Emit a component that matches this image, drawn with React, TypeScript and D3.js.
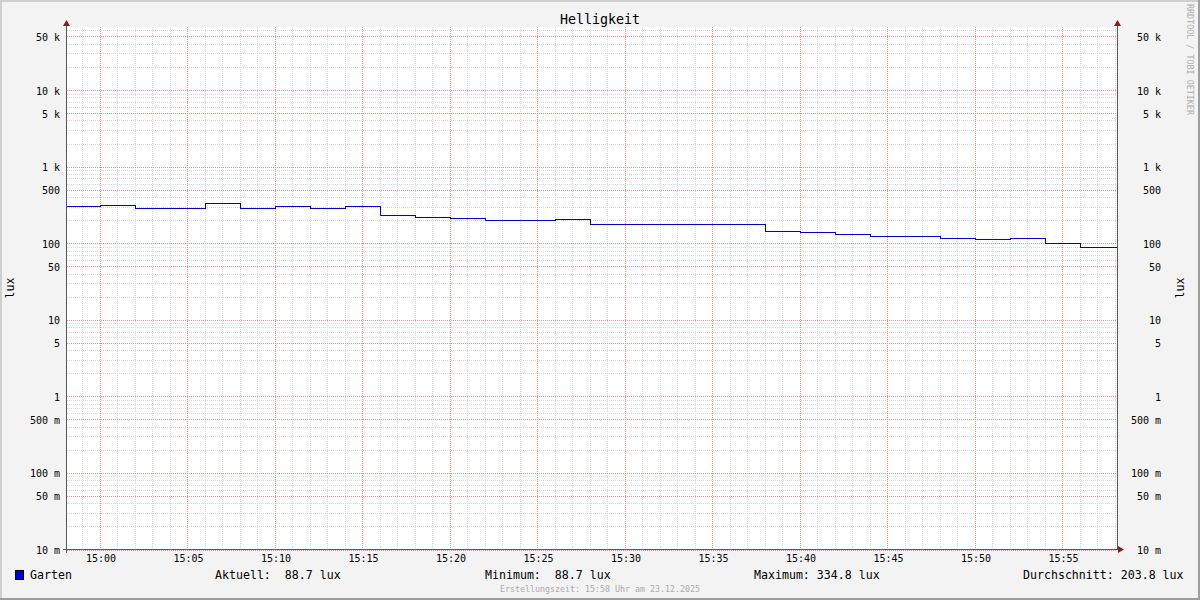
import React from "react";
import * as d3 from "d3";

// ---- data ----
const startTimes = [
  "14:58", "15:00", "15:02", "15:04", "15:06", "15:08", "15:10", "15:12", "15:14", "15:16",
  "15:18", "15:20", "15:22", "15:24", "15:26", "15:28", "15:30", "15:32", "15:34", "15:36",
  "15:38", "15:40", "15:42", "15:44", "15:46", "15:48", "15:50", "15:52", "15:54", "15:56",
];
const luxValues = [
  306, 315, 288, 288, 334.8, 288, 306, 288, 306, 233,
  220, 213, 203, 199, 207, 176, 176, 176, 176, 176,
  144, 140, 132, 124, 124, 117, 112, 116, 99.6, 88.7,
];
const yTickValues = [0.01, 0.05, 0.1, 0.5, 1, 5, 10, 50, 100, 500, 1000, 5000, 10000, 50000];
const seriesName = "Garten";
const legendStats = [
  { label: "Aktuell:", value: " 88.7 lux" },
  { label: "Minimum:", value: " 88.7 lux" },
  { label: "Maximum:", value: "334.8 lux" },
  { label: "Durchschnitt:", value: "203.8 lux" },
];
const title = "Helligkeit";
const unitLabel = "lux";
const footer = "Erstellungszeit: 15:58 Uhr am 23.12.2025";
const watermark = "RRDTOOL / TOBI OETIKER";

const W = 1200, H = 600;
const L = 67, R = 1117, T = 27, B = 549;
const MONO = "'DejaVu Sans Mono', monospace";

const parse = (s: string) => {
  const [h, m] = s.split(":").map(Number);
  return new Date(2025, 11, 23, h, m, 0);
};
const tStart = new Date(2025, 11, 23, 14, 58, 7);
const tEnd = new Date(2025, 11, 23, 15, 58, 7);

function fmtY(v: number): string {
  if (v < 1) return `${Math.round(v * 1000)} m`;
  if (v >= 1000) return `${Math.round(v / 1000)} k`;
  return `${v}  `;
}

export default function App() {
  const x = d3.scaleTime().domain([tStart, tEnd]).range([L, R]);
  const y = d3.scaleLog().domain([0.01, 65500]).range([B + 0.5, T + 0.5]);
  const px = (v: number) => Math.round(v) + 0.5;

  const data = startTimes.map((s, i) => ({ t: parse(s), v: luxValues[i] }));
  const pts = [...data, { t: tEnd, v: luxValues[luxValues.length - 1] }];
  const line = d3
    .line<{ t: Date; v: number }>()
    .x((d) => px(x(d.t)))
    .y((d) => px(y(d.v)))
    .curve(d3.curveStepAfter);

  const minorY: number[] = [];
  for (let e = -2; e <= 4; e++) {
    for (let k = 1; k <= 9; k++) {
      const v = k * Math.pow(10, e);
      if (v <= 65500 && k !== 1 && k !== 5) minorY.push(v);
    }
  }
  const minuteTicks = d3.timeMinute.every(1)!.range(tStart, tEnd).filter((d) => d.getMinutes() % 5 !== 0);
  const fiveTicks = d3.timeMinute.every(5)!.range(tStart, tEnd);
  const fmtX = d3.timeFormat("%H:%M");

  const minorC = "#d9d9d9";
  const majorC = "#f09090";
  const arrowC = "#8b1a1a";
  const axisC = "#5a5a5a";

  const legendX = [15, 215, 485, 754, 1023];

  return (
    <svg width={W} height={H} style={{ position: "fixed", left: 0, top: 0 }} fontFamily={MONO}>
      <rect x={0} y={0} width={W} height={H} fill="#f3f3f3" />
      <path d={`M0,${H}V0H${W}`} stroke="#cfcfcf" strokeWidth={4} fill="none" />
      <path d={`M0,${H}H${W}V0`} stroke="#9e9e9e" strokeWidth={4} fill="none" />
      <rect x={L} y={T} width={R - L} height={B - T} fill="#ffffff" />

      <g shapeRendering="crispEdges" strokeDasharray="1,1" strokeWidth={1}>
        {minorY.map((v) => (
          <line key={"my" + v} x1={L} x2={R} y1={px(y(v))} y2={px(y(v))} stroke={minorC} />
        ))}
        {minuteTicks.map((d) => (
          <line key={"mx" + +d} x1={px(x(d))} x2={px(x(d))} y1={T} y2={B} stroke={minorC} />
        ))}
        {yTickValues.map((v) => (
          <line key={"My" + v} x1={L} x2={R} y1={px(y(v))} y2={px(y(v))} stroke={majorC} />
        ))}
        {fiveTicks.map((d) => (
          <line key={"Mx" + +d} x1={px(x(d))} x2={px(x(d))} y1={T} y2={B} stroke={majorC} />
        ))}
      </g>

      <path d={line(pts) || ""} fill="none" stroke="#0000cc" strokeWidth={1} shapeRendering="crispEdges" />

      <g shapeRendering="crispEdges" stroke={axisC} strokeWidth={1}>
        <line x1={L - 0.5} x2={L - 0.5} y1={B + 4} y2={T - 4} />
        <line x1={R + 0.5} x2={R + 0.5} y1={B + 1} y2={T - 4} />
        <line x1={L - 4} x2={R + 4} y1={B + 0.5} y2={B + 0.5} />
      </g>
      <path d={`M${L - 4},${T - 1}L${L - 0.5},${T - 7}L${L + 3},${T - 1}Z`} fill={arrowC} />
      <path d={`M${R - 3},${T - 1}L${R + 0.5},${T - 7}L${R + 4},${T - 1}Z`} fill={arrowC} />
      <path d={`M${R + 1},${B - 3}L${R + 7},${B + 0.5}L${R + 1},${B + 4}Z`} fill={arrowC} />

      <g fontSize={10} fill="#000" dominantBaseline="central" style={{ whiteSpace: "pre" }} textAnchor="end">
        {yTickValues.map((v) => {
          const s = fmtY(v);
          const yy = y(v) + 1;
          return (
            <g key={"yl" + v}>
              <text x={60} y={yy}>{s}</text>
              <text x={1161} y={yy}>{s}</text>
            </g>
          );
        })}
      </g>

      <g fontSize={10} fill="#000" textAnchor="middle">
        {fiveTicks.map((d) => (
          <text key={"xl" + +d} x={x(d) + 1} y={562}>{fmtX(d)}</text>
        ))}
      </g>

      <text x={600} y={24} textAnchor="middle" fontSize={13.3} fill="#000">{title}</text>

      <text transform="translate(14,288) rotate(-90)" textAnchor="middle" fontSize={11.6} fill="#000">{unitLabel}</text>
      <text transform="translate(1184,288) rotate(-90)" textAnchor="middle" fontSize={11.6} fill="#000">{unitLabel}</text>

      <text transform="translate(1187,4) rotate(90)" fontSize={8.4} fill="#adadad">{watermark}</text>

      <rect x={15.5} y={570.5} width={8} height={9} fill="#0000cc" stroke="#000" strokeWidth={1} shapeRendering="crispEdges" />
      <text x={30} y={579} fontSize={11.6} fill="#000">{seriesName}</text>
      {legendStats.map((s, i) => (
        <text key={s.label} x={legendX[i + 1]} y={579} fontSize={11.6} fill="#000" style={{ whiteSpace: "pre" }}>
          {s.label + " " + s.value}
        </text>
      ))}

      <text x={600} y={592} textAnchor="middle" fontSize={8.3} fill="#aaaaaa">{footer}</text>
    </svg>
  );
}
